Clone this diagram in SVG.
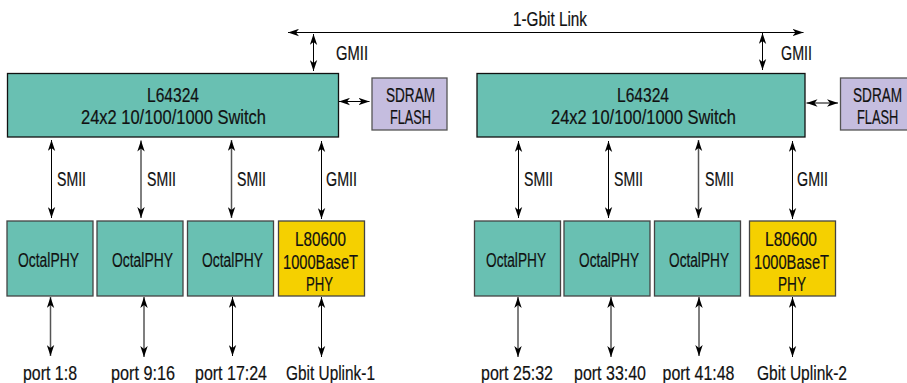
<svg xmlns="http://www.w3.org/2000/svg" width="907" height="383" viewBox="0 0 907 383">
<style>
text{font-family:"Liberation Sans",Arial,sans-serif;font-size:20px;fill:#111;stroke:#111;stroke-width:.2}
.sw{fill:#69c0b2;stroke:#111;stroke-width:1.3}
.ph{fill:#69c0b2;stroke:#444;stroke-width:1.3}
.ye{fill:#f5d000;stroke:#444;stroke-width:1.3}
.me{fill:#c5bddf;stroke:#555;stroke-width:1.3}
.c{fill:none;stroke:#000;stroke-width:1;marker-start:url(#a);marker-end:url(#a)}
.g{stroke:#555;stroke-width:1.5}
</style>
<defs>
<marker id="a" markerUnits="userSpaceOnUse" markerWidth="12" markerHeight="8" refX="11" refY="4" orient="auto-start-reverse"><path d="M0 .3L11 4L0 7.700L3 4Z" fill="#000"/></marker>
</defs>
<g id="connectors">
<path class="c" d="M288 32.500H803.500"/>
<path class="c" d="M313.500 34V71"/>
<path class="c" d="M762.500 33V70"/>
<path class="c" d="M339 101.500H369.500"/>
<path class="c" d="M806.500 103H838"/>
<path class="c" d="M51.500 140V218"/>
<path class="c" d="M141 140.500V218"/>
<path class="c g" d="M231.500 140V218"/>
<path class="c" d="M321.500 141V219"/>
<path class="c" d="M518.500 141V218"/>
<path class="c" d="M608.500 141V218"/>
<path class="c g" d="M698.500 140V218"/>
<path class="c" d="M792.500 141V219"/>
<path class="c g" d="M50.500 297V356"/>
<path class="c g" d="M144 297V357"/>
<path class="c" d="M232.500 297V356"/>
<path class="c" d="M321.500 297V357"/>
<path class="c g" d="M518 297V357"/>
<path class="c g" d="M611 297V357"/>
<path class="c" d="M699 297V356"/>
<path class="c" d="M792.500 297V357"/>
</g>
<g id="labels">
<text x="513" y="26" textLength="74" lengthAdjust="spacingAndGlyphs">1-Gbit Link</text>
<text x="336" y="60" textLength="32" lengthAdjust="spacingAndGlyphs">GMII</text>
<text x="781" y="60" textLength="31" lengthAdjust="spacingAndGlyphs">GMII</text>
<text x="57" y="186" textLength="29" lengthAdjust="spacingAndGlyphs">SMII</text>
<text x="147" y="186" textLength="29" lengthAdjust="spacingAndGlyphs">SMII</text>
<text x="237" y="186" textLength="29" lengthAdjust="spacingAndGlyphs">SMII</text>
<text x="326" y="186" textLength="31" lengthAdjust="spacingAndGlyphs">GMII</text>
<text x="524" y="186" textLength="29" lengthAdjust="spacingAndGlyphs">SMII</text>
<text x="614" y="186" textLength="29" lengthAdjust="spacingAndGlyphs">SMII</text>
<text x="705" y="186" textLength="29" lengthAdjust="spacingAndGlyphs">SMII</text>
<text x="797" y="186" textLength="31" lengthAdjust="spacingAndGlyphs">GMII</text>
<text x="23" y="380" textLength="54" lengthAdjust="spacingAndGlyphs">port 1:8</text>
<text x="111" y="380" textLength="64" lengthAdjust="spacingAndGlyphs">port 9:16</text>
<text x="195" y="380" textLength="72" lengthAdjust="spacingAndGlyphs">port 17:24</text>
<text x="286" y="380" textLength="89" lengthAdjust="spacingAndGlyphs">Gbit Uplink-1</text>
<text x="481" y="380" textLength="72" lengthAdjust="spacingAndGlyphs">port 25:32</text>
<text x="574" y="380" textLength="72" lengthAdjust="spacingAndGlyphs">port 33:40</text>
<text x="662.500" y="380" textLength="72" lengthAdjust="spacingAndGlyphs">port 41:48</text>
<text x="757" y="380" textLength="90" lengthAdjust="spacingAndGlyphs">Gbit Uplink-2</text>
</g>
<g id="switch-1"><rect class="sw" x="7.500" y="73.500" width="331" height="63.500"/>
<text x="147" y="101.500" textLength="52" lengthAdjust="spacingAndGlyphs">L64324</text>
<text x="81" y="124" textLength="185" lengthAdjust="spacingAndGlyphs">24x2 10/100/1000 Switch</text></g>
<g id="mem-1"><rect class="me" x="372" y="78" width="75" height="52"/>
<text x="386" y="102" textLength="49" lengthAdjust="spacingAndGlyphs">SDRAM</text>
<text x="390" y="124" textLength="41" lengthAdjust="spacingAndGlyphs">FLASH</text></g>
<g id="phy-1"><rect class="ph" x="7" y="221" width="86" height="75"/><text x="18" y="267" textLength="61" lengthAdjust="spacingAndGlyphs">OctalPHY</text></g>
<g id="phy-2"><rect class="ph" x="97" y="221" width="86" height="75"/><text x="112" y="267" textLength="61" lengthAdjust="spacingAndGlyphs">OctalPHY</text></g>
<g id="phy-3"><rect class="ph" x="187.500" y="221" width="86" height="75"/><text x="202" y="267" textLength="61" lengthAdjust="spacingAndGlyphs">OctalPHY</text></g>
<g id="gphy-1"><rect class="ye" x="278.500" y="221" width="86" height="75"/>
<text x="295" y="246" textLength="51" lengthAdjust="spacingAndGlyphs">L80600</text>
<text x="283" y="269" textLength="75" lengthAdjust="spacingAndGlyphs">1000BaseT</text>
<text x="306" y="291" textLength="27" lengthAdjust="spacingAndGlyphs">PHY</text></g>
<g id="switch-2"><rect class="sw" x="477" y="73.500" width="328" height="63.500"/>
<text x="617" y="101.500" textLength="52" lengthAdjust="spacingAndGlyphs">L64324</text>
<text x="551" y="124" textLength="185" lengthAdjust="spacingAndGlyphs">24x2 10/100/1000 Switch</text></g>
<g id="mem-2"><rect class="me" x="840.500" y="78" width="75" height="52"/>
<text transform="translate(853 102) scale(.68 1)">SDRAM</text>
<text transform="translate(857 124) scale(.64 1)">FLASH</text></g>
<g id="phy-4"><rect class="ph" x="474.500" y="221" width="86" height="75"/><text x="486" y="267" textLength="60" lengthAdjust="spacingAndGlyphs">OctalPHY</text></g>
<g id="phy-5"><rect class="ph" x="564" y="221" width="86" height="75"/><text x="579" y="267" textLength="60" lengthAdjust="spacingAndGlyphs">OctalPHY</text></g>
<g id="phy-6"><rect class="ph" x="654.500" y="221" width="86" height="75"/><text x="669" y="267" textLength="60" lengthAdjust="spacingAndGlyphs">OctalPHY</text></g>
<g id="gphy-2"><rect class="ye" x="749.500" y="221" width="86" height="75"/>
<text x="765" y="246" textLength="52" lengthAdjust="spacingAndGlyphs">L80600</text>
<text x="754" y="269" textLength="75" lengthAdjust="spacingAndGlyphs">1000BaseT</text>
<text x="778" y="291" textLength="28" lengthAdjust="spacingAndGlyphs">PHY</text></g>
</svg>
